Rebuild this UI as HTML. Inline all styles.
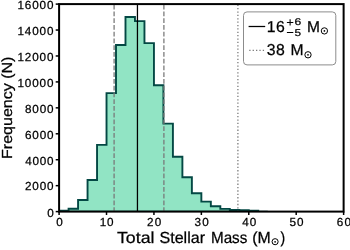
<!DOCTYPE html>
<html><head><meta charset="utf-8"><style>
html,body{margin:0;padding:0;background:#fff;}
svg{display:block;will-change:transform;}
text{font-family:"Liberation Sans",sans-serif;fill:#000;text-rendering:geometricPrecision;stroke:#000;stroke-width:0.25px;}
</style></head><body>
<svg width="350" height="250" viewBox="0 0 350 250">
<rect width="350" height="250" fill="#fff"/>
<defs><clipPath id="ax"><rect x="59.1" y="4.096000000000004" width="284.52" height="207.504"/></clipPath></defs>
<g clip-path="url(#ax)">
<polygon points="59.10,211.60 59.10,210.70 68.58,210.70 68.58,208.70 78.07,208.70 78.07,200.00 87.55,200.00 87.55,180.00 97.04,180.00 97.04,144.90 106.52,144.90 106.52,93.10 116.00,93.10 116.00,45.00 125.49,45.00 125.49,17.00 134.97,17.00 134.97,21.10 144.46,21.10 144.46,43.10 153.94,43.10 153.94,85.30 163.42,85.30 163.42,123.60 172.91,123.60 172.91,156.70 182.39,156.70 182.39,177.30 191.88,177.30 191.88,193.20 201.36,193.20 201.36,201.60 210.84,201.60 210.84,206.30 220.33,206.30 220.33,208.90 229.81,208.90 229.81,209.90 239.30,209.90 239.30,210.20 248.78,210.20 248.78,210.60 258.26,210.60 258.26,211.60 267.75,211.60 267.75,211.60" fill="#91e4c4" stroke="#044844" stroke-width="1.9" stroke-linejoin="miter"/>
<line x1="114.1" y1="211.9" x2="114.1" y2="0" stroke="#787878" stroke-width="1.274" stroke-dasharray="4.71 2.04"/>
<line x1="163.9" y1="211.9" x2="163.9" y2="0" stroke="#787878" stroke-width="1.274" stroke-dasharray="4.71 2.04"/>
<line x1="137.45" y1="211.9" x2="137.45" y2="0" stroke="#000" stroke-width="1.274"/>
<line x1="237.9" y1="211.9" x2="237.9" y2="0" stroke="#787878" stroke-width="1.274" stroke-dasharray="1.274 2.102"/>
</g>
<line x1="55.70" y1="211.60" x2="59.10" y2="211.60" stroke="#000" stroke-width="1.5"/>
<text x="47.34" y="216.90" font-size="11.7">0</text>
<line x1="55.70" y1="185.66" x2="59.10" y2="185.66" stroke="#000" stroke-width="1.5"/>
<text x="25.01" y="190.46" font-size="11.7" textLength="28.45" lengthAdjust="spacing">2000</text>
<line x1="55.70" y1="159.72" x2="59.10" y2="159.72" stroke="#000" stroke-width="1.5"/>
<text x="25.33" y="164.52" font-size="11.7" textLength="28.13" lengthAdjust="spacing">4000</text>
<line x1="55.70" y1="133.79" x2="59.10" y2="133.79" stroke="#000" stroke-width="1.5"/>
<text x="25.01" y="138.59" font-size="11.7" textLength="28.45" lengthAdjust="spacing">6000</text>
<line x1="55.70" y1="107.85" x2="59.10" y2="107.85" stroke="#000" stroke-width="1.5"/>
<text x="25.09" y="112.65" font-size="11.7" textLength="28.37" lengthAdjust="spacing">8000</text>
<line x1="55.70" y1="81.91" x2="59.10" y2="81.91" stroke="#000" stroke-width="1.5"/>
<text x="17.51" y="86.71" font-size="11.7" textLength="35.95" lengthAdjust="spacing">10000</text>
<line x1="55.70" y1="55.97" x2="59.10" y2="55.97" stroke="#000" stroke-width="1.5"/>
<text x="17.51" y="60.77" font-size="11.7" textLength="35.95" lengthAdjust="spacing">12000</text>
<line x1="55.70" y1="30.03" x2="59.10" y2="30.03" stroke="#000" stroke-width="1.5"/>
<text x="17.51" y="34.83" font-size="11.7" textLength="35.95" lengthAdjust="spacing">14000</text>
<line x1="55.70" y1="4.10" x2="59.10" y2="4.10" stroke="#000" stroke-width="1.5"/>
<text x="17.51" y="8.90" font-size="11.7" textLength="35.95" lengthAdjust="spacing">16000</text>
<line x1="59.10" y1="211.60" x2="59.10" y2="215.00" stroke="#000" stroke-width="1.5"/>
<text x="56.19" y="226.30" font-size="11.7">0</text>
<line x1="106.52" y1="211.60" x2="106.52" y2="215.00" stroke="#000" stroke-width="1.5"/>
<text x="99.73" y="226.30" font-size="11.7" textLength="13.75" lengthAdjust="spacing">10</text>
<line x1="153.94" y1="211.60" x2="153.94" y2="215.00" stroke="#000" stroke-width="1.5"/>
<text x="147.00" y="226.30" font-size="11.7" textLength="14.35" lengthAdjust="spacing">20</text>
<line x1="201.36" y1="211.60" x2="201.36" y2="215.00" stroke="#000" stroke-width="1.5"/>
<text x="194.56" y="226.30" font-size="11.7" textLength="14.20" lengthAdjust="spacing">30</text>
<line x1="248.78" y1="211.60" x2="248.78" y2="215.00" stroke="#000" stroke-width="1.5"/>
<text x="242.16" y="226.30" font-size="11.7" textLength="14.03" lengthAdjust="spacing">40</text>
<line x1="296.20" y1="211.60" x2="296.20" y2="215.00" stroke="#000" stroke-width="1.5"/>
<text x="289.38" y="226.30" font-size="11.7" textLength="14.23" lengthAdjust="spacing">50</text>
<line x1="343.62" y1="211.60" x2="343.62" y2="215.00" stroke="#000" stroke-width="1.5"/>
<text x="336.68" y="226.30" font-size="11.7" textLength="14.35" lengthAdjust="spacing">60</text>
<rect x="59.1" y="4.096000000000004" width="284.52" height="207.50" fill="none" stroke="#000" stroke-width="2" stroke-linejoin="miter"/>
<text x="117.02" y="242.70" font-size="16" textLength="37.40" lengthAdjust="spacingAndGlyphs">Total</text>
<text x="159.47" y="242.70" font-size="16" textLength="45.60" lengthAdjust="spacingAndGlyphs">Stellar</text>
<text x="210.95" y="242.70" font-size="16" textLength="36.40" lengthAdjust="spacingAndGlyphs">Mass</text>
<text x="252.22" y="242.70" font-size="16" textLength="18.48" lengthAdjust="spacingAndGlyphs">(M</text>
<circle cx="275.1" cy="241.7" r="3.05" fill="none" stroke="#000" stroke-width="1.0"/><circle cx="275.1" cy="241.8" r="0.85" fill="#000"/>
<text x="280.52" y="242.70" font-size="16" textLength="4.65" lengthAdjust="spacingAndGlyphs">)</text>
<text transform="translate(12.1,158.91) rotate(-90)" x="0" y="0" font-size="14.6" textLength="102.31" lengthAdjust="spacingAndGlyphs">Frequency (N)</text>
<rect x="243.5" y="11.9" width="92.3" height="53.0" rx="3.5" ry="3.5" fill="#fff" fill-opacity="0.8" stroke="#8c8c8c" stroke-width="1"/>
<line x1="248.6" y1="26.5" x2="265.2" y2="26.5" stroke="#000" stroke-width="1.274"/>
<line x1="248.6" y1="50.4" x2="265.2" y2="50.4" stroke="#787878" stroke-width="1.274" stroke-dasharray="1.274 2.102" stroke-dashoffset="-0.66"/>
<text x="266.80" y="31.70" font-size="15.8" textLength="18.10" lengthAdjust="spacing">16</text>
<path d="M286.9 22.4H293.3M290.1 19.2V25.6" stroke="#000" stroke-width="1.05" fill="none"/>
<path d="M286.9 32.5H293.3" stroke="#000" stroke-width="1.05" fill="none"/>
<text x="294.48" y="25.20" font-size="9.8" textLength="6.75" lengthAdjust="spacingAndGlyphs">6</text>
<text x="294.63" y="36.10" font-size="9.8" textLength="6.57" lengthAdjust="spacingAndGlyphs">5</text>
<text x="306.92" y="31.70" font-size="15.8" textLength="12.95" lengthAdjust="spacingAndGlyphs">M</text>
<circle cx="324.4" cy="30.9" r="3.15" fill="none" stroke="#000" stroke-width="1.0"/><circle cx="324.4" cy="30.9" r="0.85" fill="#000"/>
<text x="266.70" y="55.10" font-size="15.8" textLength="18.19" lengthAdjust="spacing">38</text>
<text x="290.51" y="55.10" font-size="15.8" textLength="13.08" lengthAdjust="spacingAndGlyphs">M</text>
<circle cx="308.0" cy="54.8" r="3.15" fill="none" stroke="#000" stroke-width="1.0"/><circle cx="308.0" cy="54.8" r="0.85" fill="#000"/>
</svg>
</body></html>
